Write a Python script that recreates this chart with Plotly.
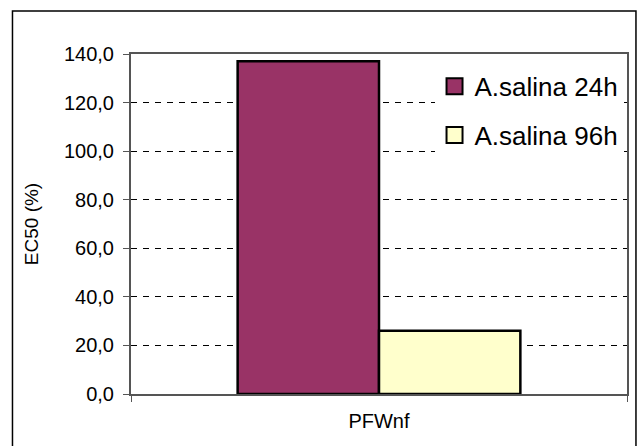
import plotly.graph_objects as go

# EC50 values for Artemia salina exposure times
categories = ["PFWnf"]
series_names = ["A.salina 24h", "A.salina 96h"]
ec50_24h = [137.0]
ec50_96h = [26.0]
y_tick_values = [0, 20, 40, 60, 80, 100, 120, 140]
y_tick_labels = ["0,0", "20,0", "40,0", "60,0", "80,0", "100,0", "120,0", "140,0"]

colors = ["#993366", "#FFFFCC"]
font_family = "Liberation Sans, Arial, sans-serif"

fig = go.Figure()
for name, vals, col in zip(series_names, [ec50_24h, ec50_96h], colors):
    fig.add_trace(go.Bar(
        x=categories, y=vals, name=name, showlegend=False,
        marker=dict(color=col, line=dict(color="black", width=2.5)),
    ))

# legend entries with larger square swatches
for i, (name, col) in enumerate(zip(series_names, colors)):
    fig.add_trace(go.Scatter(
        x=[None], y=[None], mode="markers", name=name, legendgroup=f"g{i}",
        marker=dict(symbol="square", size=17, color=col,
                    line=dict(color="black", width=2)),
    ))

W, H = 640, 446
ml, mr, mt, mb = 131, 11, 54, 52
pw, ph = W - ml - mr, H - mt - mb

def px_x(x):
    return (x - ml) / pw

def px_y(y):
    return (H - mb - y) / ph

fig.update_layout(
    width=W, height=H,
    margin=dict(l=ml, r=mr, t=mt, b=mb),
    paper_bgcolor="white", plot_bgcolor="white",
    font=dict(family=font_family, color="black", size=20),
    barmode="group", bargap=0.43, bargroupgap=0,
    legend=dict(
        x=0.993, xanchor="right", y=0.974, yanchor="top",
        bgcolor="white", font=dict(size=26),
        traceorder="grouped", tracegroupgap=12,
        itemwidth=30,
    ),
    xaxis=dict(
        type="category", showline=True, linecolor="#555555", linewidth=2,
        mirror=True, ticks="outside", tickson="boundaries", ticklen=6,
        tickcolor="#555555", tickfont=dict(size=20), ticklabelstandoff=8,
        showgrid=False,
    ),
    yaxis=dict(
        range=[0, 140], tickvals=y_tick_values, ticktext=y_tick_labels,
        showline=True, linecolor="#555555", linewidth=2, mirror=True,
        ticks="outside", ticklen=6, tickcolor="#555555",
        tickfont=dict(size=20), ticklabelstandoff=5,
        showgrid=True, gridcolor="black", gridwidth=1, griddash="6px,6px",
        zeroline=False,
        title=dict(text="EC50 (%)", font=dict(size=19), standoff=20),
    ),
    shapes=[dict(
        type="rect", xref="paper", yref="paper",
        x0=px_x(12), x1=px_x(638), y0=px_y(460), y1=px_y(11),
        line=dict(color="black", width=1.5), fillcolor="rgba(0,0,0,0)",
        layer="below",
    )],
)

fig.write_html("out.html")
